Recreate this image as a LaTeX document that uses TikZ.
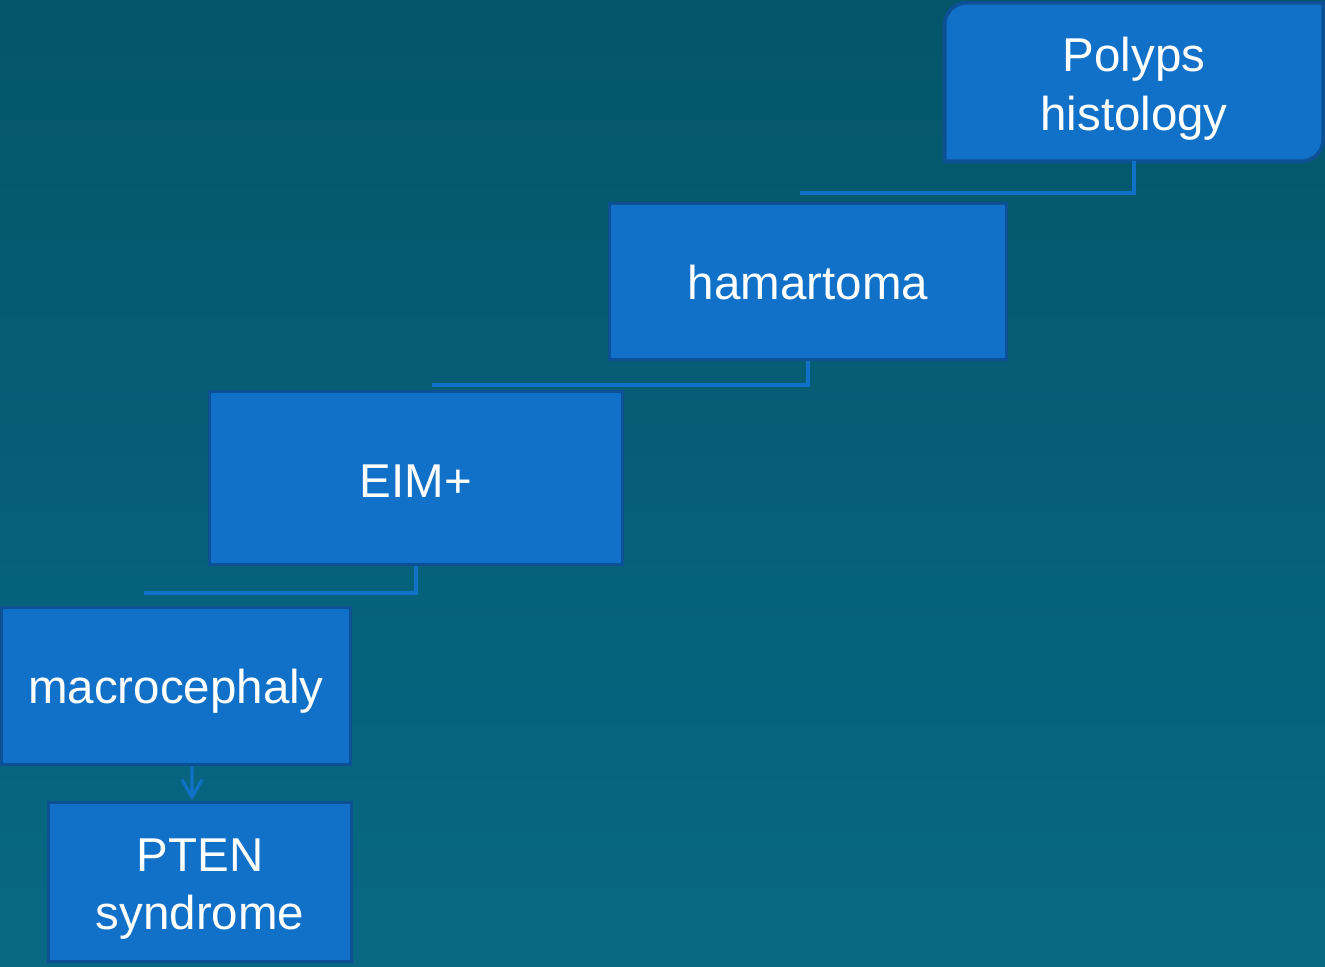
\documentclass[tikz,border=0pt]{standalone}
\usepackage{fontspec}
\setmainfont{Liberation Sans}
\usetikzlibrary{arrows.meta,backgrounds}
\definecolor{bgtop}{RGB}{4,86,106}
\definecolor{bgbot}{RGB}{8,104,132}
\definecolor{boxfill}{RGB}{17,112,200}
\definecolor{boxedge}{RGB}{14,80,150}
\newcommand{\toppad}[1]{\rule{0pt}{#1}}
\begin{document}
\begin{tikzpicture}[x=0.01cm, y=-0.01cm,
    stepbox/.style={draw=boxedge, line width=1.05pt, fill=boxfill, align=center, text=white,
      font=\fontsize{13.5}{16.7}\selectfont, inner sep=1pt},
    topbox/.style={align=center, text=white, font=\fontsize{13.5}{16.7}\selectfont, inner sep=1pt,
      minimum width=3.77cm, minimum height=1.57cm},
    link/.style={draw=boxfill, line width=0.9pt},
    arr/.style={link, -{Straight Barb[length=0.18cm, width=0.2cm, line width=0.9pt]}}]
  \useasboundingbox (0,0) rectangle (1325,966);
  \node[topbox] (polyps) at (1134,82) {\toppad{0.48cm}Polyps\\histology};
  \node[stepbox, minimum width=3.97cm, minimum height=1.56cm] (hamart) at (808,281.5) {\toppad{0.36cm}hamartoma};
  \node[stepbox, minimum width=4.13cm, minimum height=1.73cm] (eim) at (416,478) {\toppad{0.38cm}EIM+};
  \node[stepbox, minimum width=3.49cm, minimum height=1.57cm] (macro) at (176,686) {\toppad{0.44cm}macrocephaly};
  \node[stepbox, minimum width=3.03cm, minimum height=1.59cm] (pten) at (200,882) {\toppad{0.47cm}PTEN\\syndrome};
  \coordinate (e1) at (800,193);
  \coordinate (e2) at (432,385);
  \coordinate (e3) at (144,593);
  \draw[link] (polyps.south) |- (e1);
  \draw[link] (hamart.south) |- (e2);
  \draw[link] (eim.south) |- (e3);
  \draw[arr] ([xshift=0.16cm]macro.south) -- ([xshift=-0.08cm]pten.north);
  \begin{pgfonlayer}{background}
    \shade[top color=bgtop, bottom color=bgbot] (0,0) rectangle (1325,966);
    \draw[draw=boxedge, line width=1.05pt, fill=boxfill] (polyps.south west) [rounded corners=0.22cm] -- (polyps.north west)
      [sharp corners] -- (polyps.north east) [rounded corners=0.22cm] -- (polyps.south east) [sharp corners] -- cycle;
  \end{pgfonlayer}
\end{tikzpicture}
\end{document}
